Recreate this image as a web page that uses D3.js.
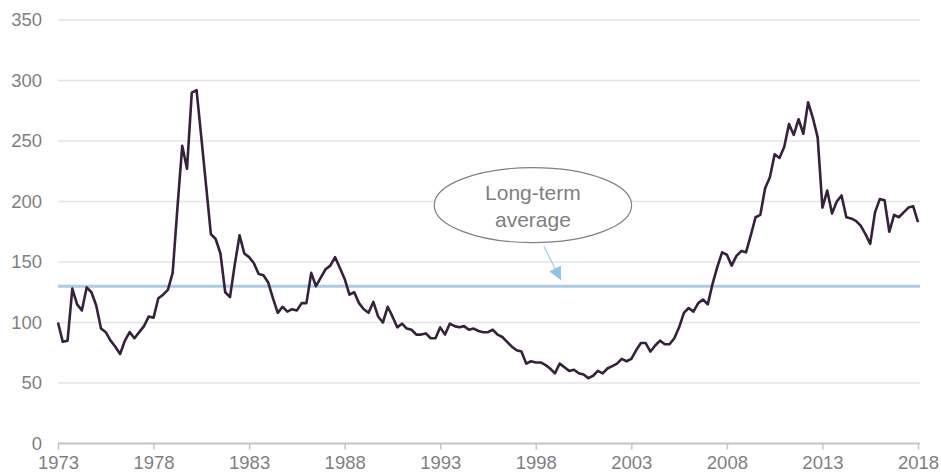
<!DOCTYPE html>
<html>
<head>
<meta charset="utf-8">
<script src="https://cdn.jsdelivr.net/npm/d3@7"></script>
<style>
  html, body { margin: 0; padding: 0; background: #fff; }
  svg { display: block; font-family: Arial, "Liberation Sans", sans-serif; }
</style>
</head>
<body>
<svg id="chart"></svg>
<script>
'use strict'

// quarterly index, 1973 Q1 .. 2018 Q1
var startYear = 1973;
var values = [
    100, 84, 85, 128,   // 1973
    115, 110, 129, 125, // 1974
    114, 95, 92, 85,    // 1975
    80, 74, 85, 92,     // 1976
    87, 92, 97, 105,    // 1977
    104, 120, 123, 127, // 1978
    141, 195, 246, 227, // 1979
    290, 292, 253, 213, // 1980
    173, 169, 157, 125, // 1981
    121, 148, 172, 157, // 1982
    154, 149, 140, 139, // 1983
    133, 120, 108, 113, // 1984
    109, 111, 110, 116, // 1985
    116, 141, 130, 137, // 1986
    144, 147, 154, 145, // 1987
    136, 123, 125, 116, // 1988
    111, 108, 117, 105, // 1989
    100, 113, 105, 96,  // 1990
    99, 95, 94, 90,     // 1991
    90, 91, 87, 87,     // 1992
    96, 90, 99, 97,     // 1993
    96, 97, 94, 95,     // 1994
    93, 92, 92, 94,     // 1995
    90, 88, 84, 80,     // 1996
    77, 76, 66, 68,     // 1997
    67, 67, 65, 62,     // 1998
    58, 66, 63, 60,     // 1999
    61, 58, 57, 54,     // 2000
    56, 60, 58, 62,     // 2001
    64, 66, 70, 68,     // 2002
    70, 77, 83, 83,     // 2003
    76, 81, 85, 82,     // 2004
    82, 87, 96, 108,    // 2005
    112, 109, 116, 119, // 2006
    115, 132, 146, 158, // 2007
    156, 147, 155, 159, // 2008
    158, 172, 187, 189, // 2009
    211, 220, 239, 236, // 2010
    245, 264, 255, 268, // 2011
    256, 282, 269, 253, // 2012
    195, 209, 190, 200, // 2013
    205, 187, 186, 184, // 2014
    180, 173, 165, 191, // 2015
    202, 201, 175, 189, // 2016
    187, 191, 195, 196, // 2017
    183                 // 2018
];
var longTermAverage = 130;
var xTicks = [1973, 1978, 1983, 1988, 1993, 1998, 2003, 2008, 2013, 2018];
var yTicks = [0, 50, 100, 150, 200, 250, 300, 350];
var noteLines = ["Long-term", "average"];

var width = 941, height = 472;
var margin = { top: 20, right: 23, bottom: 28.5, left: 58 };

var svg = d3.select("#chart")
    .attr("width", width)
    .attr("height", height);

var data = values.map((v, i) => ({ t: startYear + i / 4, v: v }));

var x = d3.scaleLinear()
    .domain([1973, 2018])
    .range([margin.left, width - margin.right]);

var y = d3.scaleLinear()
    .domain([0, 350])
    .range([height - margin.bottom, margin.top]);

// gridlines
svg.append("g")
    .attr("class", "grid")
    .selectAll("line")
    .data(yTicks.filter(d => d > 0))
    .enter().append("line")
    .attr("x1", margin.left)
    .attr("x2", width - margin.right + 2)
    .attr("y1", d => y(d))
    .attr("y2", d => y(d))
    .attr("stroke", "#e4e4e4")
    .attr("stroke-width", 1.3);

// y axis labels
var yAxis = svg.append("g")
    .attr("transform", `translate(${margin.left},0)`)
    .call(d3.axisLeft(y).tickValues(yTicks).tickSize(0).tickPadding(16));
yAxis.select(".domain").remove();
yAxis.selectAll("text")
    .attr("fill", "#7f7f7f")
    .attr("font-size", "18.5px")
    .attr("font-family", "Arial, 'Liberation Sans', sans-serif");

// x axis
var xAxis = svg.append("g")
    .attr("transform", `translate(0,${y(0)})`)
    .call(d3.axisBottom(x).tickValues(xTicks).tickFormat(d3.format("d")).tickSize(6).tickPadding(6));
xAxis.select(".domain")
    .attr("stroke", "#c4c4c4")
    .attr("stroke-width", 2)
    .attr("d", `M${margin.left},0H${width - margin.right + 2}`);
xAxis.selectAll(".tick line")
    .attr("stroke", "#c4c4c4")
    .attr("stroke-width", 1.5);
xAxis.selectAll("text")
    .attr("fill", "#7f7f7f")
    .attr("font-size", "18.5px")
    .attr("font-family", "Arial, 'Liberation Sans', sans-serif");

// long-term average
svg.append("line")
    .attr("x1", margin.left)
    .attr("x2", width - margin.right + 2)
    .attr("y1", y(longTermAverage))
    .attr("y2", y(longTermAverage))
    .attr("stroke", "#a9cce4")
    .attr("stroke-width", 3);

// series
var line = d3.line()
    .x(d => x(d.t))
    .y(d => y(d.v));

svg.append("path")
    .datum(data)
    .attr("fill", "none")
    .attr("stroke", "#37203d")
    .attr("stroke-width", 2.6)
    .attr("stroke-linejoin", "round")
    .attr("d", line);

// annotation bubble + arrow
var cx = x(1997.85), cy = y(197);
var tip = [x(1999.32), y(135)];
var from = [x(1998.42), y(163)];

svg.append("defs").append("marker")
    .attr("id", "head")
    .attr("viewBox", "0 0 10 10")
    .attr("refX", 10)
    .attr("refY", 5)
    .attr("markerWidth", 13)
    .attr("markerHeight", 13)
    .attr("markerUnits", "userSpaceOnUse")
    .attr("orient", "auto")
    .append("path")
    .attr("d", "M0,0L10,5L0,10Z")
    .attr("fill", "#8ec4e8");

svg.append("line")
    .attr("x1", from[0])
    .attr("y1", from[1])
    .attr("x2", tip[0])
    .attr("y2", tip[1])
    .attr("stroke", "#9fcdec")
    .attr("stroke-width", 1.2)
    .attr("marker-end", "url(#head)");

svg.append("ellipse")
    .attr("cx", cx)
    .attr("cy", cy)
    .attr("rx", 98.7)
    .attr("ry", 37.5)
    .attr("fill", "#fff")
    .attr("stroke", "#808080")
    .attr("stroke-width", 1.2);

svg.append("text")
    .attr("x", cx)
    .attr("y", cy - 5)
    .attr("text-anchor", "middle")
    .attr("fill", "#7f7f7f")
    .attr("font-size", "21px")
    .selectAll("tspan")
    .data(noteLines)
    .enter().append("tspan")
    .attr("x", cx)
    .attr("dy", (d, i) => i === 0 ? 0 : 27)
    .text(d => d);
</script>
</body>
</html>
